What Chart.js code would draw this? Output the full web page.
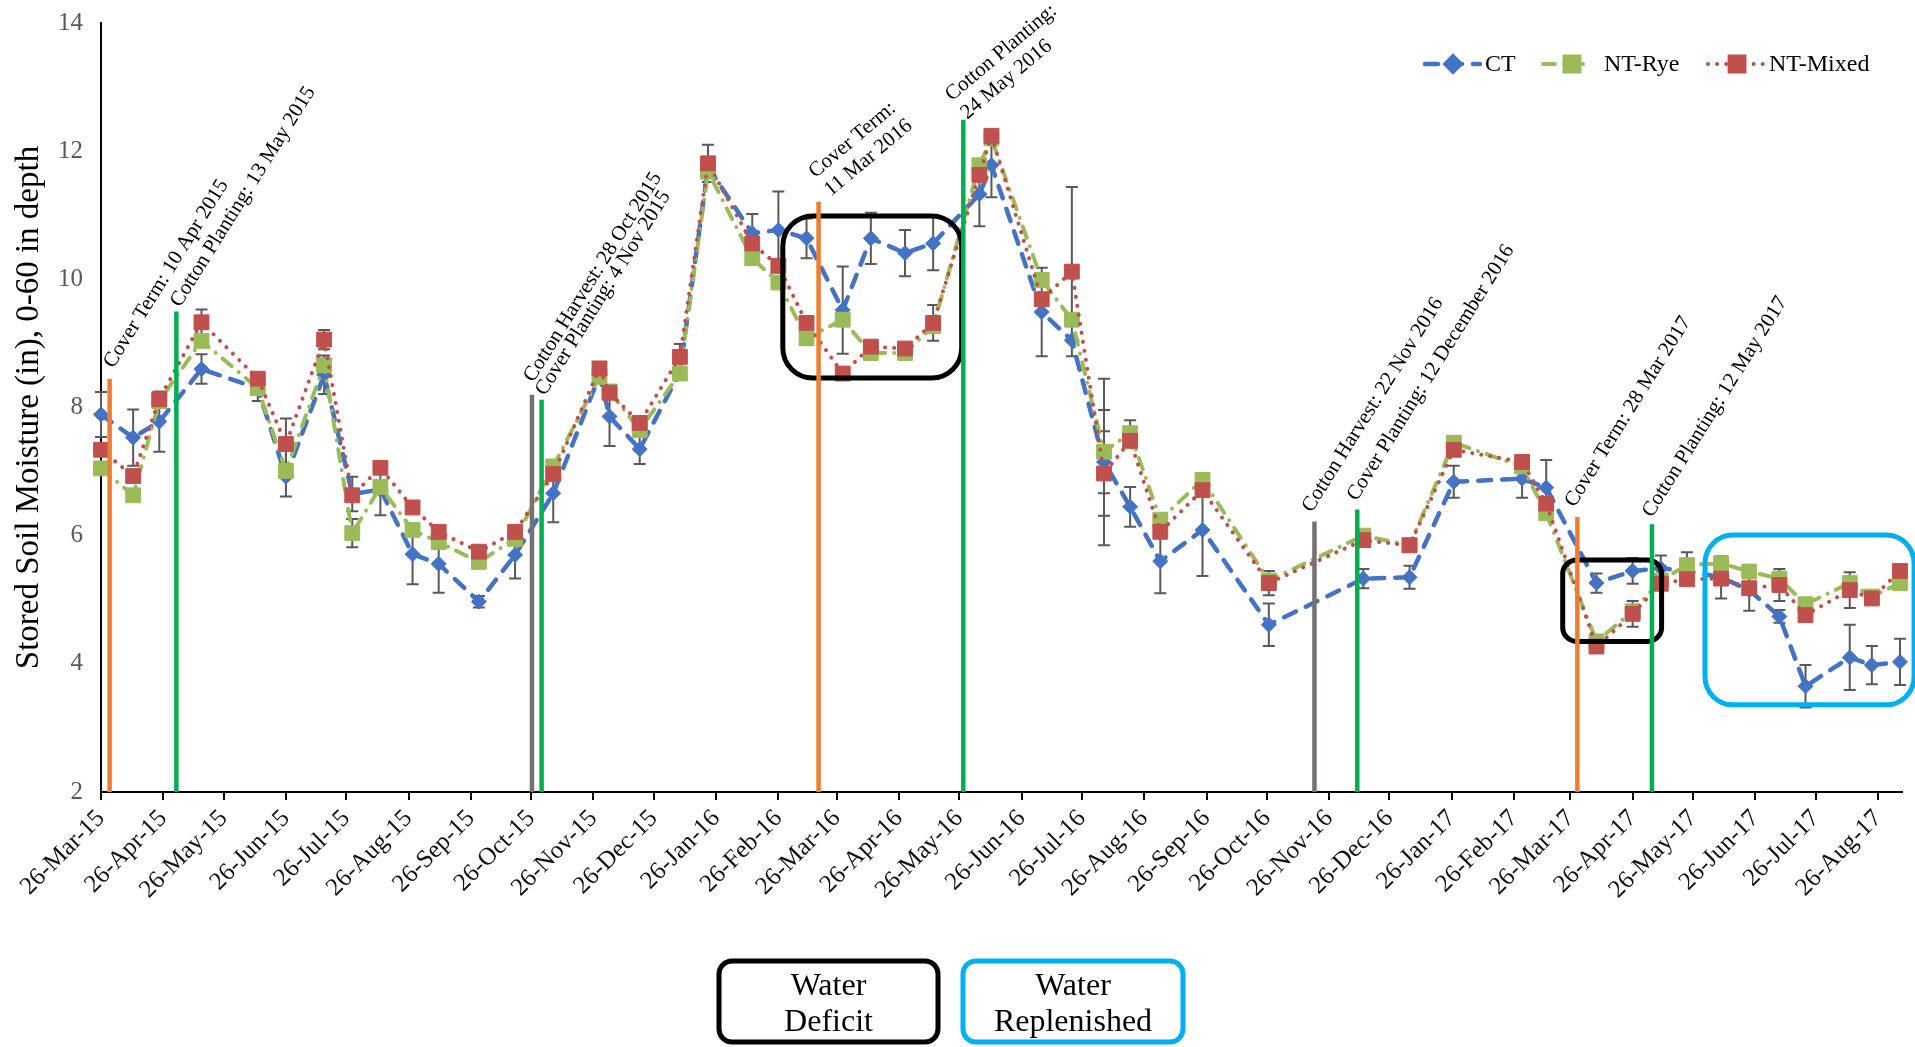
<!DOCTYPE html>
<html>
<head>
<meta charset="utf-8">
<title>Stored Soil Moisture</title>
<script src="https://cdn.jsdelivr.net/npm/chart.js@4.4.1/dist/chart.umd.min.js"></script>
<style>
  html, body { margin: 0; padding: 0; background: #fff; }
  #wrap { width: 1915px; height: 1047px; }
</style>
</head>
<body>
<div id="wrap"><canvas id="chart" width="1915" height="1047"></canvas></div>
<script>
// ── Data ──────────────────────────────────────────────────────────────────
var sampleDates = [
    '2015-03-26', '2015-04-11', '2015-04-24', '2015-05-15', '2015-06-12', '2015-06-26',
    '2015-07-15', '2015-07-29', '2015-08-12', '2015-08-28', '2015-09-10', '2015-09-30',
    '2015-10-18', '2015-11-06', '2015-11-29', '2015-12-04', '2015-12-19', '2016-01-08',
    '2016-01-22', '2016-02-13', '2016-02-26', '2016-03-11', '2016-03-29', '2016-04-12',
    '2016-04-29', '2016-05-13', '2016-06-05', '2016-06-11', '2016-07-06', '2016-07-21',
    '2016-08-06', '2016-08-19', '2016-09-03', '2016-09-24', '2016-10-27', '2016-12-13',
    '2017-01-05', '2017-01-27', '2017-03-02', '2017-03-14', '2017-04-08', '2017-04-26',
    '2017-05-10', '2017-05-23', '2017-06-09', '2017-06-23', '2017-07-08', '2017-07-21',
    '2017-08-12', '2017-08-23', '2017-09-06'
];

var ctValues = [
    7.89, 7.53, 7.78, 8.60, 8.30, 6.92, 8.51, 6.65, 6.72, 5.71, 5.56, 4.97,
    5.70, 6.66, 8.50, 7.86, 7.35, 8.55, 11.75, 10.72, 10.77, 10.64, 9.52, 10.64,
    10.41, 10.56, 11.33, 11.78, 9.49, 9.05, 7.15, 6.45, 5.60, 6.09, 4.61, 5.33,
    5.35, 6.84, 6.89, 6.75, 5.26, 5.45, 5.49, 5.45, 5.35, 5.15, 4.74, 3.65,
    4.10, 3.98, 4.03
];
var ryeValues = [
    7.05, 6.63, 8.10, 9.04, 8.30, 7.01, 8.66, 6.04, 6.76, 6.09, 5.90, 5.59,
    5.95, 7.08, 8.48, 8.25, 7.65, 8.53, 11.68, 10.33, 9.95, 9.08, 9.37, 8.85,
    8.85, 9.27, 11.78, 12.20, 9.99, 9.37, 7.31, 7.60, 6.25, 6.87, 5.30, 6.00,
    5.85, 7.45, 7.08, 6.35, 4.35, 4.82, 5.30, 5.54, 5.57, 5.44, 5.33, 4.93,
    5.26, 5.05, 5.26
];
var mixedValues = [
    7.34, 6.93, 8.13, 9.33, 8.45, 7.43, 9.06, 6.63, 7.06, 6.44, 6.06, 5.75,
    6.06, 6.96, 8.61, 8.23, 7.76, 8.79, 11.81, 10.56, 10.21, 9.32, 8.53, 8.95,
    8.92, 9.32, 11.63, 12.24, 9.69, 10.12, 6.97, 7.48, 6.06, 6.71, 5.26, 5.93,
    5.85, 7.34, 7.15, 6.50, 4.27, 4.78, 5.25, 5.32, 5.33, 5.18, 5.23, 4.76,
    5.15, 5.02, 5.45
];

// standard error (+/-), 0 = no bar
var ctErr = [
    0.35, 0.44, 0.47, 0.23, 0.20, 0, 0.30, 0.27, 0.40, 0.47, 0.45, 0.09,
    0.37, 0.45, 0, 0.46, 0.23, 0, 0, 0.30, 0.60, 0.31, 0.68, 0.40,
    0.36, 0.42, 0.50, 0.50, 0.69, 0, 1.30, 0.31, 0.50, 0.72, 0.33, 0.15,
    0.18, 0.25, 0.30, 0.43, 0.15, 0.20, 0.20, 0, 0.33, 0.32, 0.10, 0.33,
    0.51, 0.30, 0.36
];
var ryeErr = [
    0, 0, 0, 0, 0, 0.40, 0, 0.22, 0, 0, 0, 0,
    0, 0, 0, 0, 0, 0, 0, 0, 0, 0.10, 0, 0,
    0, 0, 0, 0, 0, 0, 0.65, 0.20, 0, 0, 0, 0,
    0, 0, 0, 0, 0, 0, 0, 0.20, 0, 0, 0, 0,
    0, 0, 0
];
var mixedErr = [
    0, 0, 0, 0.20, 0, 0.40, 0.15, 0, 0, 0, 0, 0,
    0, 0, 0, 0, 0, 0.20, 0.29, 0, 0, 0, 0, 0,
    0, 0.28, 0, 0, 0, 1.32, 0.66, 0, 0, 0, 0.19, 0,
    0, 0, 0, 0, 0, 0.20, 0, 0, 0, 0, 0.25, 0,
    0.28, 0, 0
];

var tickLabels = [
    '26-Mar-15', '26-Apr-15', '26-May-15', '26-Jun-15', '26-Jul-15', '26-Aug-15',
    '26-Sep-15', '26-Oct-15', '26-Nov-15', '26-Dec-15', '26-Jan-16', '26-Feb-16',
    '26-Mar-16', '26-Apr-16', '26-May-16', '26-Jun-16', '26-Jul-16', '26-Aug-16',
    '26-Sep-16', '26-Oct-16', '26-Nov-16', '26-Dec-16', '26-Jan-17', '26-Feb-17',
    '26-Mar-17', '26-Apr-17', '26-May-17', '26-Jun-17', '26-Jul-17', '26-Aug-17'
];
var yTicks = [2, 4, 6, 8, 10, 12, 14];

// field operations (day offset from 26-Mar-15, top of the marker line)
var eventNames = [
    'Cover Term: 10 Apr 2015', 'Cotton Planting: 13 May 2015',
    'Cotton Harvest: 28 Oct 2015', 'Cover Planting: 4 Nov 2015',
    'Cover Term:\n11 Mar 2016', 'Cotton Planting:\n24 May 2016',
    'Cotton Harvest: 22 Nov 2016', 'Cover Planting: 12 December 2016',
    'Cover Term: 28 Mar 2017', 'Cotton Planting: 12 May 2017'
];
var eventKinds = ['term', 'plant', 'harvest', 'plant', 'term', 'plant', 'harvest', 'plant', 'term', 'plant'];
var eventDays = [4.3, 37.5, 214.4, 219.2, 357, 429, 603.7, 625, 734.5, 771.6];
var eventTops = [8.45, 9.5, 8.2, 8.12, 11.21, 12.49, 6.22, 6.41, 6.29, 6.18];

// ── Helpers ───────────────────────────────────────────────────────────────
var MONTHS = ['Jan', 'Feb', 'Mar', 'Apr', 'May', 'Jun', 'Jul', 'Aug', 'Sep', 'Oct', 'Nov', 'Dec'];
var BASE = Date.UTC(2015, 2, 26);
var DAY = 864e5;

function dayOf(iso) {
    var p = iso.split('-');
    return Math.round((Date.UTC(+p[0], +p[1] - 1, +p[2]) - BASE) / DAY);
}
function dayOfLabel(lbl) {
    var p = lbl.split('-');
    return Math.round((Date.UTC(2000 + +p[2], MONTHS.indexOf(p[1]), +p[0]) - BASE) / DAY);
}

var sampleDays = sampleDates.map(dayOf);
var tickDays = tickLabels.map(dayOfLabel);
var labelByDay = {};
tickDays.forEach(function(d, i) { labelByDay[d] = tickLabels[i]; });
var axisEnd = dayOf('2017-09-07');

function points(values) {
    return values.map(function(v, i) { return { x: sampleDays[i], y: v }; });
}

var SERIF = "'Liberation Serif', 'Times New Roman', serif";
var BLUE = '#4472C4', GREEN = '#9BBB59', RED = '#C0504D';
var EVENT_COLORS = { term: '#ED7D31', plant: '#00B050', harvest: '#767171' };

// label placement per field operation: pixel offset from line top, rotation
var eventText = [
    { dx: 3.6, dy: -9.7, angle: 58 },
    { dx: 3.7, dy: -3.4, angle: 58 },
    { dx: 1.3, dy: -11.7, angle: 58 },
    { dx: 3.5, dy: -3.3, angle: 58 },
    { dx: -3.3, dy: -23.4, angle: 40 },
    { dx: -11.6, dy: -18.3, angle: 40 },
    { dx: -2.8, dy: -8.4, angle: 58 },
    { dx: -0.6, dy: -7.6, angle: 58 },
    { dx: -3, dy: -9, angle: 58 },
    { dx: 0, dy: -6, angle: 58 }
];

// rounded highlight frames, in data units
var frames = [
    { x0: 339.2, x1: 428.2, y0: 10.99, y1: 8.46, color: '#000000', radius: 30 },
    { x0: 727.2, x1: 776.4, y0: 5.62, y1: 4.35, color: '#000000', radius: 14 },
    { x0: 798.0, x1: 902.0, y0: 6.01, y1: 3.36, color: '#00B0F0', radius: 28 }
];

function roundRect(ctx, x, y, w, h, r) {
    ctx.beginPath();
    ctx.moveTo(x + r, y);
    ctx.lineTo(x + w - r, y);
    ctx.arcTo(x + w, y, x + w, y + r, r);
    ctx.lineTo(x + w, y + h - r);
    ctx.arcTo(x + w, y + h, x + w - r, y + h, r);
    ctx.lineTo(x + r, y + h);
    ctx.arcTo(x, y + h, x, y + h - r, r);
    ctx.lineTo(x, y + r);
    ctx.arcTo(x, y, x + r, y, r);
    ctx.closePath();
}

// ── Plugins ───────────────────────────────────────────────────────────────
var errorBars = {
    id: 'errorBars',
    beforeDatasetsDraw: function(chart) {
        var ctx = chart.ctx, xs = chart.scales.x, ys = chart.scales.y;
        ctx.save();
        ctx.strokeStyle = '#595959';
        ctx.lineWidth = 2;
        chart.data.datasets.forEach(function(ds) {
            ds.data.forEach(function(p, i) {
                var e = ds.errors[i];
                if (!e) return;
                var x = xs.getPixelForValue(p.x);
                var yt = ys.getPixelForValue(p.y + e), yb = ys.getPixelForValue(p.y - e);
                ctx.beginPath();
                ctx.moveTo(x, yt); ctx.lineTo(x, yb);
                ctx.moveTo(x - 6, yt); ctx.lineTo(x + 6, yt);
                ctx.moveTo(x - 6, yb); ctx.lineTo(x + 6, yb);
                ctx.stroke();
            });
        });
        ctx.restore();
    }
};

var annotations = {
    id: 'annotations',
    afterDatasetsDraw: function(chart) {
        var ctx = chart.ctx, xs = chart.scales.x, ys = chart.scales.y;
        ctx.save();

        // highlight frames
        frames.forEach(function(f) {
            var x0 = xs.getPixelForValue(f.x0), x1 = xs.getPixelForValue(f.x1);
            var y0 = ys.getPixelForValue(f.y0), y1 = ys.getPixelForValue(f.y1);
            ctx.lineWidth = 5;
            ctx.strokeStyle = f.color;
            roundRect(ctx, x0, y0, x1 - x0, y1 - y0, f.radius);
            ctx.stroke();
        });

        // field operation lines + labels
        eventDays.forEach(function(d, i) {
            var x = xs.getPixelForValue(d);
            var top = ys.getPixelForValue(eventTops[i]);
            ctx.strokeStyle = EVENT_COLORS[eventKinds[i]];
            ctx.lineWidth = 4.5;
            ctx.beginPath();
            ctx.moveTo(x, ys.getPixelForValue(2));
            ctx.lineTo(x, top);
            ctx.stroke();

            var t = eventText[i];
            ctx.save();
            ctx.translate(x + t.dx, top + t.dy);
            ctx.rotate(-t.angle * Math.PI / 180);
            ctx.fillStyle = '#000';
            ctx.font = '21px ' + SERIF;
            ctx.textBaseline = 'alphabetic';
            ctx.textAlign = 'left';
            eventNames[i].split('\n').forEach(function(line, k) {
                ctx.fillText(line, 0, k * 24);
            });
            ctx.restore();
        });
        ctx.restore();
    },
    afterDraw: function(chart) {
        var ctx = chart.ctx;
        ctx.save();

        // series legend, top right
        var legend = [
            { ds: 0, x0: 1425, x1: 1480, mx: 1453, tx: 1485, text: 'CT' },
            { ds: 1, x0: 1543, x1: 1583, mx: 1572, tx: 1604, text: 'NT-Rye' },
            { ds: 2, x0: 1708, x1: 1763, mx: 1737, tx: 1769, text: 'NT-Mixed' }
        ];
        var ly = 64;
        legend.forEach(function(item) {
            var ds = chart.data.datasets[item.ds];
            ctx.strokeStyle = ds.borderColor;
            ctx.lineWidth = ds.borderWidth;
            ctx.lineCap = ds.borderCapStyle;
            ctx.setLineDash(ds.borderDash);
            ctx.beginPath();
            ctx.moveTo(item.x0, ly);
            ctx.lineTo(item.x1, ly);
            ctx.stroke();
            ctx.setLineDash([]);
            Chart.helpers.drawPoint(ctx, {
                pointStyle: ds.pointStyle, radius: ds.pointRadius, borderWidth: 1, rotation: 0
            }, item.mx, ly);
            ctx.fillStyle = ds.backgroundColor;
            ctx.strokeStyle = ds.backgroundColor;
            ctx.fill();
            ctx.fillStyle = '#000';
            ctx.font = '24px ' + SERIF;
            ctx.textBaseline = 'middle';
            ctx.textAlign = 'left';
            ctx.fillText(item.text, item.tx, ly + 1);
        });

        // frame key below the axis
        var keys = [
            { x: 719, w: 219, color: '#000000', lines: ['Water', 'Deficit'] },
            { x: 963, w: 220, color: '#00B0F0', lines: ['Water', 'Replenished'] }
        ];
        keys.forEach(function(k) {
            ctx.lineWidth = 5;
            ctx.strokeStyle = k.color;
            roundRect(ctx, k.x, 961, k.w, 81, 13);
            ctx.stroke();
            ctx.fillStyle = '#000';
            ctx.font = '32px ' + SERIF;
            ctx.textAlign = 'center';
            ctx.textBaseline = 'alphabetic';
            ctx.fillText(k.lines[0], k.x + k.w / 2, 995);
            ctx.fillText(k.lines[1], k.x + k.w / 2, 1031);
        });
        ctx.restore();
    }
};

// ── Chart ─────────────────────────────────────────────────────────────────
Chart.defaults.font.family = SERIF;

new Chart(document.getElementById('chart'), {
    type: 'line',
    data: {
        datasets: [
            {
                label: 'CT',
                data: points(ctValues),
                errors: ctErr,
                borderColor: BLUE,
                backgroundColor: BLUE,
                borderWidth: 4.5,
                borderDash: [13, 11],
                borderCapStyle: 'round',
                pointStyle: 'rectRot',
                pointRadius: 7.5,
                pointBorderWidth: 1,
                tension: 0,
                clip: false,
                order: 3
            },
            {
                label: 'NT-Rye',
                data: points(ryeValues),
                errors: ryeErr,
                borderColor: GREEN,
                backgroundColor: GREEN,
                borderWidth: 4,
                borderDash: [12, 9, 0.1, 9],
                borderCapStyle: 'round',
                pointStyle: 'rect',
                pointRadius: 10.5,
                pointBorderWidth: 1,
                tension: 0,
                clip: false,
                order: 2
            },
            {
                label: 'NT-Mixed',
                data: points(mixedValues),
                errors: mixedErr,
                borderColor: RED,
                backgroundColor: RED,
                borderWidth: 4,
                borderDash: [0.1, 9],
                borderCapStyle: 'round',
                pointStyle: 'rect',
                pointRadius: 10.5,
                pointBorderWidth: 1,
                tension: 0,
                clip: false,
                order: 1
            }
        ]
    },
    options: {
        responsive: false,
        animation: false,
        events: [],
        layout: { padding: { top: 23, right: 13, left: 0, bottom: 0 } },
        plugins: {
            legend: { display: false },
            tooltip: { enabled: false }
        },
        scales: {
            x: {
                type: 'linear',
                min: 0,
                max: axisEnd,
                afterBuildTicks: function(scale) {
                    scale.ticks = tickDays.map(function(d) { return { value: d }; });
                },
                afterFit: function(scale) { scale.height = 255; },
                grid: {
                    drawOnChartArea: false,
                    drawTicks: true,
                    tickLength: 8,
                    color: '#000',
                    lineWidth: 2
                },
                border: { display: true, color: '#000', width: 2 },
                ticks: {
                    autoSkip: false,
                    maxRotation: 45,
                    minRotation: 45,
                    padding: 4,
                    color: '#111',
                    font: { size: 25 },
                    callback: function(v) { return labelByDay[v] || ''; }
                }
            },
            y: {
                min: 2,
                max: 14,
                afterBuildTicks: function(scale) {
                    scale.ticks = yTicks.map(function(v) { return { value: v }; });
                },
                afterFit: function(scale) {
                    scale.width = 101;
                    scale.paddingTop = 0;
                    scale.paddingBottom = 0;
                },
                grid: { display: false, drawTicks: false },
                border: { display: true, color: '#000', width: 2 },
                ticks: {
                    padding: 18,
                    color: '#595959',
                    font: { size: 25 }
                },
                title: {
                    display: true,
                    text: 'Stored Soil Moisture (in), 0-60 in depth',
                    color: '#000',
                    font: { size: 33 },
                    padding: { top: 10, bottom: 0 }
                }
            }
        }
    },
    plugins: [errorBars, annotations]
});
</script>
</body>
</html>
